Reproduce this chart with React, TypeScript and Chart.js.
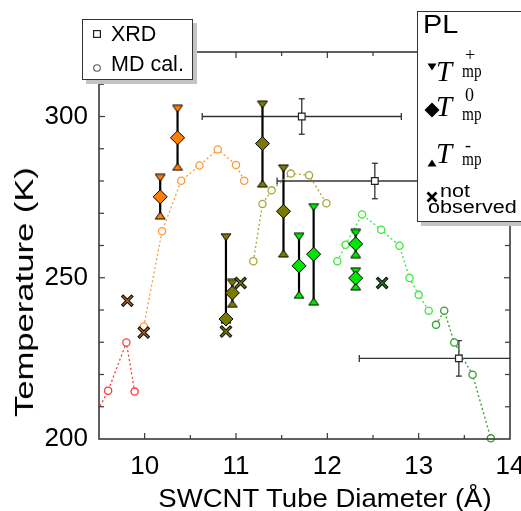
import React, { useEffect, useRef } from "react";
import { Chart, registerables } from "chart.js";
Chart.register(...registerables);

const FONT = 'Arial, "Liberation Sans", sans-serif';
const SERIF = '"Liberation Serif", "Times New Roman", serif';

// axis
const xTicks = [10, 11, 12, 13, 14];
const yTicks = [200, 250, 300];

// MD calculation (circles, dotted lines)
const mdRedX = [9.4, 9.6, 9.8, 9.89];
const mdRedY = [204, 215, 229.9, 214.7];
const mdOrangeX = [9.99, 10.19, 10.4, 10.6, 10.8, 11.0, 11.09];
const mdOrangeY = [234.9, 264.4, 280.1, 284.8, 289.8, 285.0, 280.1];
const mdOliveX = [11.19, 11.29, 11.39, 11.6, 11.8, 11.99];
const mdOliveY = [255.1, 272.9, 277.1, 282.3, 281.8, 273.1];
const mdGreenX = [12.11, 12.2, 12.38, 12.59, 12.79, 12.9, 13.0, 13.11];
const mdGreenY = [255.1, 260.2, 269.6, 264.9, 259.9, 249.9, 244.7, 239.8];
const mdDarkGreenX = [13.19, 13.28, 13.39, 13.59, 13.79];
const mdDarkGreenY = [235.4, 239.8, 229.9, 219.9, 200.2];

// XRD
const xrdX = [11.72, 12.52, 13.44];
const xrdY = [300, 280, 225];
const xrdXErr = [1.09, 1.07, 1.09];
const xrdYErr = [5.5, 5.5, 5.5];

// PL
const plOrangeX = [10.17, 10.36];
const plOrangePlus = [281, 302.4];
const plOrangeZero = [275.1, 293.4];
const plOrangeMinus = [269.3, 284.4];
const plOliveX = [10.89, 10.96, 11.29, 11.52];
const plOlivePlus = [262.6, 248.4, 303.7, 283.9];
const plOliveZero = [237.2, 245.3, 291.6, 270.6];
const plOliveMinus = [237.0, 241.9, 279.2, 257.5];
const plGreenX = [11.69, 11.85, 12.31, 12.31];
const plGreenPlus = [262.7, 271.9, 263.9, 252.0];
const plGreenZero = [253.7, 257.3, 260.5, 249.9];
const plGreenMinus = [244.7, 242.6, 257.3, 247.3];

// not observed
const noOrangeX = [9.81, 9.99];
const noOrangeY = [242.9, 233.0];
const noOliveX = [10.89, 11.05];
const noOliveY = [233.3, 248.4];
const noGreenX = [12.6];
const noGreenY = [248.4];

const C_RED = "#ff3b3b";
const C_ORANGE_MD = "#ff9a33";
const C_OLIVE_MD = "#a8a838";
const C_GREEN_MD = "#3ee63e";
const C_DGREEN_MD = "#2f9f2f";
const C_ORANGE = "#ff7f00";
const C_OLIVE = "#7a7a00";
const C_GREEN = "#00e600";

const pts = (xs: number[], ys: number[]) => xs.map((x, i) => ({ x, y: ys[i] }));

function triCanvas(color: string, down: boolean) {
  const c = document.createElement("canvas");
  c.width = 12;
  c.height = 9;
  const g = c.getContext("2d")!;
  g.beginPath();
  if (down) {
    g.moveTo(1, 1);
    g.lineTo(11, 1);
    g.lineTo(6, 8);
  } else {
    g.moveTo(1, 8);
    g.lineTo(11, 8);
    g.lineTo(6, 1);
  }
  g.closePath();
  g.fillStyle = color;
  g.fill();
  g.strokeStyle = "#000";
  g.lineWidth = 1;
  g.stroke();
  return c;
}

function mdSet(xs: number[], ys: number[], color: string, clip: any) {
  return {
    data: pts(xs, ys),
    showLine: true,
    borderColor: color,
    borderWidth: 1.3,
    borderDash: [2, 2.5],
    pointStyle: "circle",
    pointRadius: 3.6,
    pointBackgroundColor: "#fff",
    pointBorderColor: color,
    pointBorderWidth: 1.3,
    clip,
    order: 10,
  };
}

function plSets(xs: number[], plus: number[], zero: number[], minus: number[], color: string) {
  return [
    { data: pts(xs, plus), showLine: false, pointStyle: triCanvas(color, true), pointRadius: 5, clip: false, order: 5 },
    { data: pts(xs, minus), showLine: false, pointStyle: triCanvas(color, false), pointRadius: 5, clip: false, order: 5 },
    {
      data: pts(xs, zero),
      showLine: false,
      pointStyle: "rectRot",
      pointRadius: 7,
      pointBackgroundColor: color,
      pointBorderColor: "#000",
      pointBorderWidth: 1,
      clip: false,
      order: 4,
    },
  ];
}

function xSets(xs: number[], ys: number[], color: string) {
  return [
    { data: pts(xs, ys), showLine: false, pointStyle: "crossRot", pointRadius: 7.5, pointBorderColor: "#111", pointBorderWidth: 3.4, clip: false, order: 3 },
    { data: pts(xs, ys), showLine: false, pointStyle: "crossRot", pointRadius: 6.5, pointBorderColor: color, pointBorderWidth: 1.2, clip: false, order: 2 },
  ];
}

const plErrGroups = [
  { xs: plOrangeX, top: plOrangePlus, bot: plOrangeMinus },
  { xs: plOliveX, top: plOlivePlus, bot: plOliveMinus },
  { xs: plGreenX, top: plGreenPlus, bot: plGreenMinus },
];

const framePlugin = {
  id: "frameAndBars",
  beforeDatasetsDraw(chart: any) {
    const { ctx, chartArea: a, scales } = chart;
    const x = scales.x;
    const y = scales.y;
    const seg = (x1: number, y1: number, x2: number, y2: number) => {
      ctx.beginPath();
      ctx.moveTo(x1, y1);
      ctx.lineTo(x2, y2);
      ctx.stroke();
    };
    ctx.save();
    ctx.beginPath();
    ctx.rect(a.left, a.top, a.right - a.left, a.bottom - a.top);
    ctx.clip();
    // XRD error bars
    ctx.strokeStyle = "#333";
    ctx.lineWidth = 1.3;
    xrdX.forEach((xv, i) => {
      const px = x.getPixelForValue(xv);
      const py = y.getPixelForValue(xrdY[i]);
      const l = x.getPixelForValue(xv - xrdXErr[i]);
      const r = x.getPixelForValue(xv + xrdXErr[i]);
      const t = y.getPixelForValue(xrdY[i] + xrdYErr[i]);
      const b = y.getPixelForValue(xrdY[i] - xrdYErr[i]);
      seg(l, py, r, py);
      seg(l, py - 3.5, l, py + 3.5);
      seg(r, py - 3.5, r, py + 3.5);
      seg(px, t, px, b);
      seg(px - 3, t, px + 3, t);
      seg(px - 3, b, px + 3, b);
    });
    ctx.restore();
    ctx.save();
    // PL vertical lines
    ctx.strokeStyle = "#000";
    ctx.lineWidth = 2.2;
    plErrGroups.forEach((g) => {
      g.xs.forEach((xv, i) => {
        const px = x.getPixelForValue(xv);
        seg(px, y.getPixelForValue(g.top[i]), px, y.getPixelForValue(g.bot[i]));
      });
    });
    ctx.restore();
  },
  afterDraw(chart: any) {
    const { ctx, chartArea: a, scales } = chart;
    const x = scales.x;
    const y = scales.y;
    ctx.save();
    ctx.strokeStyle = "#3a3a3a";
    ctx.lineWidth = 1.6;
    ctx.strokeRect(a.left, a.top, a.right - a.left, a.bottom - a.top);
    ctx.lineWidth = 1.2;
    const seg = (x1: number, y1: number, x2: number, y2: number) => {
      ctx.beginPath();
      ctx.moveTo(x1, y1);
      ctx.lineTo(x2, y2);
      ctx.stroke();
    };
    for (let v = 10; v < 14; v += 0.5) {
      const px = x.getPixelForValue(v);
      const len = Number.isInteger(v) ? 6 : 4;
      seg(px, a.bottom, px, a.bottom - len);
      seg(px, a.top, px, a.top + len);
    }
    for (let v = 210; v < 320; v += 10) {
      const py = y.getPixelForValue(v);
      const len = v % 50 === 0 ? 6 : 5;
      seg(a.left, py, a.left + len, py);
      seg(a.right, py, a.right - len, py);
    }
    ctx.restore();
  },
};

function Tri({ cx, cy, down }: { cx: number; cy: number; down: boolean }) {
  return (
    <svg style={{ position: "absolute", left: cx - 5, top: cy - 4 }} width={10} height={8}>
      <polygon points={down ? "0.5,0.5 9.5,0.5 5,7.5" : "0.5,7.5 9.5,7.5 5,0.5"} fill="#000" />
    </svg>
  );
}

function TLabel({ capTop, sup, supTop, subTop }: { capTop: number; sup: string; supTop: number; subTop: number }) {
  return (
    <>
      <div style={{ position: "absolute", left: 436, top: capTop - 5.5, fontFamily: SERIF, fontStyle: "italic", fontSize: 29, lineHeight: 1, whiteSpace: "nowrap" }}>T</div>
      <div style={{ position: "absolute", left: 465, top: supTop, fontFamily: SERIF, fontSize: 18, lineHeight: 1 }}>{sup}</div>
      <div style={{ position: "absolute", left: 462, top: subTop, fontFamily: SERIF, fontSize: 18, lineHeight: 1, transform: "scaleX(0.85)", transformOrigin: "left" }}>mp</div>
    </>
  );
}

export default function App() {
  const ref = useRef<HTMLCanvasElement>(null);
  useEffect(() => {
    document.body.style.margin = "0";
    const datasets: any[] = [
      mdSet(mdRedX, mdRedY, C_RED, 0),
      mdSet(mdOrangeX, mdOrangeY, C_ORANGE_MD, false),
      mdSet(mdOliveX, mdOliveY, C_OLIVE_MD, false),
      mdSet(mdGreenX, mdGreenY, C_GREEN_MD, false),
      mdSet(mdDarkGreenX, mdDarkGreenY, C_DGREEN_MD, false),
      {
        data: pts(xrdX, xrdY),
        showLine: false,
        pointStyle: "rect",
        pointRadius: 4.7,
        pointBackgroundColor: "#fff",
        pointBorderColor: "#222",
        pointBorderWidth: 1.2,
        clip: false,
        order: 8,
      },
      ...plSets(plOrangeX, plOrangePlus, plOrangeZero, plOrangeMinus, C_ORANGE),
      ...plSets(plOliveX, plOlivePlus, plOliveZero, plOliveMinus, C_OLIVE),
      ...plSets(plGreenX, plGreenPlus, plGreenZero, plGreenMinus, C_GREEN),
      ...xSets(noOrangeX, noOrangeY, "#c06010"),
      ...xSets(noOliveX, noOliveY, C_OLIVE),
      ...xSets(noGreenX, noGreenY, "#1f7f1f"),
    ];
    const chart = new Chart(ref.current!, {
      type: "scatter",
      data: { datasets },
      options: {
        responsive: false,
        animation: false,
        devicePixelRatio: 1,
        events: [],
        layout: { padding: { top: 52, right: 11, left: 0, bottom: 0 } },
        plugins: { legend: { display: false }, tooltip: { enabled: false } },
        scales: {
          x: {
            type: "linear",
            min: 9.5,
            max: 14,
            afterBuildTicks: (s: any) => {
              s.ticks = xTicks.map((v) => ({ value: v }));
            },
            afterFit: (s: any) => {
              s.height = 72;
              s.paddingLeft = 0;
              s.paddingRight = 0;
            },
            ticks: { font: { family: FONT, size: 26 }, color: "#000", padding: 4, maxRotation: 0, autoSkip: false },
            grid: { display: false },
            border: { display: false },
          },
          y: {
            type: "linear",
            min: 200,
            max: 320,
            afterBuildTicks: (s: any) => {
              s.ticks = yTicks.map((v) => ({ value: v }));
            },
            afterFit: (s: any) => {
              s.width = 99;
              s.paddingTop = 0;
              s.paddingBottom = 0;
            },
            ticks: { font: { family: FONT, size: 26 }, color: "#000", padding: 3, autoSkip: false },
            grid: { display: false },
            border: { display: false },
          },
        },
      } as any,
      plugins: [framePlugin as any],
    });
    return () => chart.destroy();
  }, []);

  const txt = (extra: any) => ({ position: "absolute", fontFamily: FONT, lineHeight: 1, whiteSpace: "nowrap", color: "#000", ...extra });

  return (
    <div style={{ position: "relative", width: 521, height: 511, overflow: "hidden", background: "#fff" }}>
      <canvas ref={ref} width={521} height={511} style={{ position: "absolute", left: 0, top: 0, width: 521, height: 511 }} />

      {/* axis titles */}
      <div style={txt({ left: 24, top: 292, fontSize: 26, transform: "translate(-50%,-50%) rotate(-90deg) scaleX(1.33)" })}>Temperature (K)</div>
      <div style={txt({ left: 325, top: 498, fontSize: 26, transform: "translate(-50%,-50%) scaleX(1.06)" })}>SWCNT Tube Diameter (Å)</div>

      {/* left legend */}
      <div style={{ position: "absolute", left: 82, top: 19, width: 111, height: 61, boxSizing: "border-box", border: "1.5px solid #333", background: "#fff", boxShadow: "4px 4px 0 #c4c4c4" }} />
      <svg style={{ position: "absolute", left: 93, top: 30 }} width={8} height={8}>
        <rect x={0.6} y={0.6} width={6.8} height={6.8} fill="#fff" stroke="#222" strokeWidth={1.2} />
      </svg>
      <div style={txt({ left: 111, top: 24.3, fontSize: 21.5 })}>XRD</div>
      <svg style={{ position: "absolute", left: 92, top: 63 }} width={10} height={10}>
        <circle cx={5} cy={5} r={3.3} fill="#fff" stroke="#555" strokeWidth={1.1} />
      </svg>
      <div style={txt({ left: 111, top: 54.3, fontSize: 21.5 })}>MD cal.</div>

      {/* right legend */}
      <div style={{ position: "absolute", left: 417, top: 11, width: 120, height: 211, boxSizing: "border-box", border: "1.5px solid #333", background: "#fff", boxShadow: "4px 4px 0 #c4c4c4" }} />
      <div style={txt({ left: 423, top: 11.5, fontSize: 25, transform: "scaleX(1.15)", transformOrigin: "left" })}>PL</div>
      <Tri cx={432} cy={67} down={true} />
      <TLabel capTop={62} sup="+" supTop={46} subTop={62} />
      <svg style={{ position: "absolute", left: 424, top: 102 }} width={16} height={16}>
        <polygon points="8,0.5 15.5,8 8,15.5 0.5,8" fill="#000" />
      </svg>
      <TLabel capTop={97} sup="0" supTop={86} subTop={105} />
      <Tri cx={432} cy={163} down={false} />
      <TLabel capTop={144} sup="-" supTop={136} subTop={150} />
      <svg style={{ position: "absolute", left: 426, top: 191 }} width={12} height={12}>
        <line x1={1.5} y1={1.5} x2={10.5} y2={10.5} stroke="#000" strokeWidth={2.6} />
        <line x1={10.5} y1={1.5} x2={1.5} y2={10.5} stroke="#000" strokeWidth={2.6} />
      </svg>
      <div style={txt({ left: 440, top: 182, fontSize: 18, transform: "scaleX(1.2)", transformOrigin: "left" })}>not</div>
      <div style={txt({ left: 428, top: 197.5, fontSize: 18, transform: "scaleX(1.2)", transformOrigin: "left" })}>observed</div>
    </div>
  );
}
